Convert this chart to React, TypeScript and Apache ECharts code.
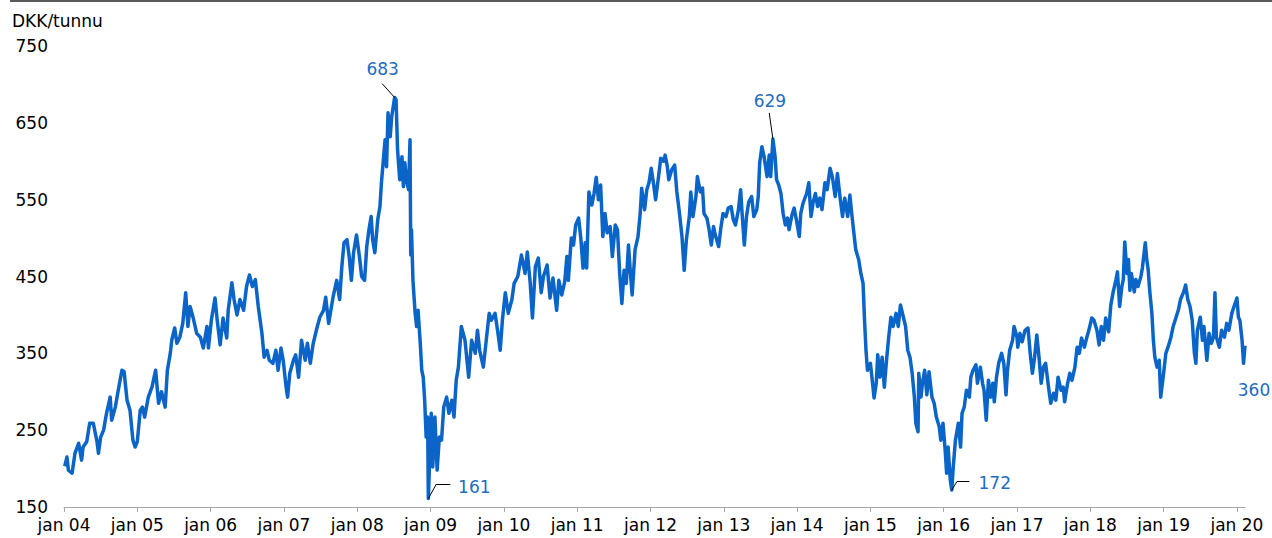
import React, { useEffect, useRef } from "react";
import * as echarts from "echarts";

// Decimal years (x) and prices DKK/tunnu (y)
const years = [
  2004.01, 2004.04, 2004.06, 2004.11, 2004.15, 2004.20, 2004.24, 2004.26, 2004.31, 2004.35,
  2004.40, 2004.45, 2004.47, 2004.50, 2004.54, 2004.58, 2004.63, 2004.65, 2004.70, 2004.74,
  2004.79, 2004.82, 2004.86, 2004.90, 2004.94, 2004.97, 2005.00, 2005.04, 2005.07, 2005.10,
  2005.15, 2005.20, 2005.25, 2005.29, 2005.33, 2005.38, 2005.41, 2005.45, 2005.47, 2005.51,
  2005.54, 2005.58, 2005.62, 2005.66, 2005.69, 2005.72, 2005.76, 2005.81, 2005.86, 2005.90,
  2005.95, 2005.97, 2006.01, 2006.06, 2006.09, 2006.13, 2006.17, 2006.22, 2006.24, 2006.29,
  2006.32, 2006.36, 2006.40, 2006.45, 2006.49, 2006.53, 2006.57, 2006.61, 2006.65, 2006.70,
  2006.73, 2006.77, 2006.80, 2006.85, 2006.89, 2006.92, 2006.96, 2006.99, 2007.03, 2007.05,
  2007.08, 2007.13, 2007.16, 2007.20, 2007.24, 2007.29, 2007.32, 2007.36, 2007.40, 2007.45,
  2007.49, 2007.54, 2007.57, 2007.61, 2007.64, 2007.67, 2007.72, 2007.76, 2007.79, 2007.82,
  2007.86, 2007.89, 2007.92, 2007.95, 2007.99, 2008.03, 2008.06, 2008.10, 2008.13, 2008.16,
  2008.19, 2008.21, 2008.24, 2008.28, 2008.31, 2008.33, 2008.36, 2008.38, 2008.40, 2008.42,
  2008.45, 2008.47, 2008.51, 2008.53, 2008.55, 2008.58, 2008.61, 2008.63, 2008.65, 2008.67,
  2008.70, 2008.72, 2008.73, 2008.74, 2008.76, 2008.79, 2008.81, 2008.83, 2008.86, 2008.88,
  2008.90, 2008.92, 2008.94, 2008.96, 2008.97, 2009.01, 2009.03, 2009.06, 2009.09, 2009.12,
  2009.15, 2009.18, 2009.22, 2009.25, 2009.29, 2009.32, 2009.35, 2009.38, 2009.42, 2009.47,
  2009.52, 2009.56, 2009.61, 2009.64, 2009.67, 2009.72, 2009.77, 2009.80, 2009.83, 2009.88,
  2009.92, 2009.95, 2009.98, 2010.02, 2010.06, 2010.11, 2010.14, 2010.19, 2010.24, 2010.29,
  2010.32, 2010.36, 2010.39, 2010.43, 2010.47, 2010.51, 2010.54, 2010.59, 2010.63, 2010.67,
  2010.72, 2010.75, 2010.79, 2010.83, 2010.86, 2010.88, 2010.92, 2010.95, 2010.98, 2011.02,
  2011.05, 2011.08, 2011.11, 2011.13, 2011.16, 2011.20, 2011.23, 2011.26, 2011.29, 2011.32,
  2011.35, 2011.38, 2011.41, 2011.45, 2011.48, 2011.52, 2011.55, 2011.58, 2011.61, 2011.64,
  2011.67, 2011.70, 2011.73, 2011.75, 2011.79, 2011.83, 2011.86, 2011.88, 2011.92, 2011.95,
  2011.98, 2012.01, 2012.04, 2012.07, 2012.11, 2012.14, 2012.18, 2012.20, 2012.23, 2012.25,
  2012.29, 2012.33, 2012.36, 2012.39, 2012.43, 2012.46, 2012.49, 2012.53, 2012.55, 2012.58,
  2012.62, 2012.64, 2012.68, 2012.71, 2012.73, 2012.77, 2012.80, 2012.83, 2012.86, 2012.89,
  2012.93, 2012.96, 2012.99, 2013.03, 2013.06, 2013.10, 2013.13, 2013.16, 2013.20, 2013.23,
  2013.25, 2013.28, 2013.31, 2013.34, 2013.38, 2013.41, 2013.45, 2013.47, 2013.49, 2013.52,
  2013.55, 2013.59, 2013.62, 2013.64, 2013.67, 2013.70, 2013.72, 2013.75, 2013.78, 2013.81,
  2013.84, 2013.87, 2013.89, 2013.93, 2013.96, 2013.99, 2014.03, 2014.05, 2014.08, 2014.13,
  2014.16, 2014.19, 2014.22, 2014.25, 2014.28, 2014.31, 2014.34, 2014.38, 2014.41, 2014.45,
  2014.48, 2014.52, 2014.55, 2014.59, 2014.62, 2014.65, 2014.69, 2014.72, 2014.75, 2014.78,
  2014.80, 2014.84, 2014.87, 2014.90, 2014.92, 2014.94, 2014.96, 2015.00, 2015.03, 2015.05,
  2015.08, 2015.10, 2015.13, 2015.16, 2015.19, 2015.22, 2015.25, 2015.28, 2015.31, 2015.35,
  2015.38, 2015.41, 2015.45, 2015.48, 2015.51, 2015.54, 2015.57, 2015.60, 2015.62, 2015.65,
  2015.66, 2015.69, 2015.71, 2015.74, 2015.77, 2015.80, 2015.84, 2015.87, 2015.90, 2015.94,
  2015.96, 2015.99, 2016.02, 2016.04, 2016.06, 2016.09, 2016.11, 2016.13, 2016.16, 2016.20,
  2016.23, 2016.25, 2016.28, 2016.31, 2016.35, 2016.37, 2016.40, 2016.44, 2016.46, 2016.50,
  2016.53, 2016.55, 2016.58, 2016.61, 2016.64, 2016.67, 2016.69, 2016.72, 2016.75, 2016.79,
  2016.82, 2016.85, 2016.87, 2016.90, 2016.94, 2016.96, 2017.00, 2017.01, 2017.04, 2017.07,
  2017.11, 2017.15, 2017.18, 2017.21, 2017.24, 2017.27, 2017.30, 2017.33, 2017.36, 2017.39,
  2017.43, 2017.46, 2017.50, 2017.53, 2017.56, 2017.60, 2017.63, 2017.65, 2017.69, 2017.72,
  2017.75, 2017.79, 2017.82, 2017.85, 2017.88, 2017.92, 2017.95, 2017.98, 2018.02, 2018.05,
  2018.09, 2018.12, 2018.15, 2018.18, 2018.21, 2018.25, 2018.28, 2018.31, 2018.35, 2018.37,
  2018.40, 2018.43, 2018.45, 2018.47, 2018.50, 2018.52, 2018.54, 2018.56, 2018.60, 2018.62,
  2018.65, 2018.69, 2018.71, 2018.75, 2018.77, 2018.79, 2018.81, 2018.84, 2018.86, 2018.88,
  2018.91, 2018.94, 2018.96, 2019.00, 2019.03, 2019.06, 2019.10, 2019.13, 2019.17, 2019.20,
  2019.23, 2019.27, 2019.30, 2019.33, 2019.36, 2019.39, 2019.42, 2019.44, 2019.46, 2019.50,
  2019.53, 2019.55, 2019.59, 2019.62, 2019.65, 2019.68, 2019.70, 2019.72, 2019.76, 2019.79,
  2019.83, 2019.86, 2019.89, 2019.93, 2019.96, 2020.00, 2020.02, 2020.04, 2020.07, 2020.09,
  2020.11,
];

const prices = [
  203, 215, 198, 194, 220, 233, 211, 228, 235, 259,
  259, 235, 220, 241, 250, 272, 293, 263, 280, 302,
  328, 326, 289, 276, 237, 228, 235, 276, 280, 267,
  293, 306, 328, 285, 300, 280, 328, 350, 367, 383,
  363, 371, 389, 429, 385, 411, 397, 376, 371, 357,
  385, 357, 393, 422, 393, 361, 396, 370, 406, 442,
  420, 400, 420, 406, 437, 452, 437, 446, 411, 376,
  345, 354, 341, 337, 354, 328, 357, 341, 306, 293,
  324, 341, 348, 319, 367, 341, 363, 337, 363, 383,
  397, 406, 423, 389, 406, 423, 445, 420, 463, 494,
  498, 476, 445, 481, 504, 476, 450, 445, 489, 511,
  528, 498, 481, 524, 541, 572, 606, 628, 593, 663,
  632, 658, 683, 680, 615, 576, 606, 567, 598, 576,
  563, 628, 478, 511, 445, 402, 385, 406, 363, 328,
  319, 289, 241, 267, 161, 272, 202, 267, 198, 241,
  237, 280, 293, 272, 289, 267, 315, 332, 385, 367,
  319, 367, 350, 380, 354, 332, 376, 402, 393, 402,
  376, 354, 393, 429, 402, 420, 441, 450, 478, 454,
  482, 441, 396, 463, 474, 429, 450, 465, 422, 448,
  406, 445, 426, 443, 476, 445, 500, 491, 517, 526,
  500, 461, 494, 461, 560, 543, 558, 579, 550, 569,
  502, 532, 507, 515, 476, 517, 511, 454, 415, 458,
  441, 491, 450, 426, 485, 502, 532, 565, 537, 563,
  572, 591, 572, 550, 580, 604, 600, 608, 593, 576,
  589, 595, 560, 537, 502, 458, 498, 528, 560, 528,
  554, 580, 560, 565, 532, 526, 511, 491, 515, 502,
  489, 513, 532, 528, 539, 541, 524, 517, 537, 563,
  532, 491, 528, 547, 554, 528, 537, 554, 598, 619,
  606, 580, 608, 580, 629, 606, 576, 569, 558, 532,
  517, 526, 511, 530, 539, 524, 502, 532, 545, 558,
  572, 528, 547, 558, 541, 552, 537, 572, 563, 591,
  580, 554, 584, 550, 528, 552, 528, 556, 528, 502,
  485, 472, 454, 441, 393, 354, 328, 337, 311, 292,
  311, 348, 319, 345, 306, 341, 371, 397, 385, 402,
  385, 413, 397, 385, 354, 345, 324, 293, 259, 248,
  324, 293, 311, 328, 296, 326, 293, 285, 267, 254,
  237, 259, 224, 194, 228, 185, 172, 202, 237, 259,
  228, 272, 280, 302, 293, 319, 328, 335, 311, 332,
  311, 302, 263, 315, 293, 311, 287, 319, 337, 350,
  337, 296, 328, 354, 367, 385, 371, 358, 376, 365,
  380, 383, 350, 324, 345, 374, 345, 311, 332, 337,
  306, 285, 298, 289, 319, 302, 306, 287, 311, 324,
  315, 332, 358, 350, 370, 358, 370, 380, 396, 393,
  380, 361, 385, 367, 396, 378, 413, 429, 446, 456,
  411, 437, 446, 495, 454, 472, 432, 454, 430, 446,
  437, 450, 461, 494, 472, 458, 432, 402, 367, 345,
  332, 341, 293, 324, 350, 358, 371, 385, 397, 406,
  420, 429, 439, 420, 411, 393, 350, 337, 380, 397,
  367, 385, 341, 376, 363, 371, 429, 371, 358, 380,
  371, 389, 380, 402, 411, 422, 397, 393, 367, 337,
  360,
];

const xTicks = [2004, 2005, 2006, 2007, 2008, 2009, 2010, 2011, 2012, 2013, 2014, 2015, 2016, 2017, 2018, 2019, 2020];
const xTickLabels = ["jan 04", "jan 05", "jan 06", "jan 07", "jan 08", "jan 09", "jan 10", "jan 11", "jan 12", "jan 13", "jan 14", "jan 15", "jan 16", "jan 17", "jan 18", "jan 19", "jan 20"];
const yTicks = [150, 250, 350, 450, 550, 650, 750];

// Annotated points (extremes and last value)
const annoYears = [2008.51, 2008.97, 2013.67, 2016.11, 2020.11];
const annoValues = [683, 161, 629, 172, 360];

// Leader lines, in data coordinates
const leaderLines = [
  [[2008.34, 701], [2008.51, 683]],
  [[2008.97, 161], [2009.08, 180]],
  [[2009.08, 180], [2009.27, 180]],
  [[2013.62, 663], [2013.67, 629]],
  [[2016.11, 172], [2016.18, 183]],
  [[2016.18, 183], [2016.35, 183]],
  [[2020.11, 360], [2020.24, 322]],
];

const FONT = "DejaVu Sans, Verdana, sans-serif";
const LINE_COLOR = "#0b65c8";
const LABEL_COLOR = "#1f6cc2";
const labelOffsets = [
  [-12, -28],
  [46, -12],
  [-3, -38],
  [43, -7],
  [9, 44],
];

export default function App() {
  const ref = useRef<HTMLDivElement>(null);

  useEffect(() => {
    if (!ref.current) return;
    const chart = echarts.init(ref.current, undefined, { renderer: "svg" });
    const data = years.map((t, i) => [t, prices[i]]);

    chart.setOption({
      animation: false,
      backgroundColor: "#ffffff",
      grid: { left: 64, right: 27, top: 46, bottom: 31, containLabel: false },
      graphic: [
        {
          type: "line",
          shape: { x1: 10, y1: 1, x2: 1272, y2: 1 },
          style: { stroke: "#5a5a5a", lineWidth: 2 },
        },
        {
          type: "text",
          left: 12,
          top: 12,
          style: { text: "DKK/tunnu", fontSize: 17, fontFamily: FONT, fill: "#000000" },
        },
      ],
      xAxis: {
        type: "value",
        min: 2004,
        max: years[years.length - 1],
        axisLine: { show: true, lineStyle: { color: "#a6a6a6", width: 1 } },
        axisTick: {
          show: true,
          length: 5,
          customValues: xTicks,
          lineStyle: { color: "#a6a6a6", width: 1 },
        },
        axisLabel: {
          customValues: xTicks,
          formatter: (v: number) => {
            const i = xTicks.indexOf(Math.round(v));
            return i >= 0 ? xTickLabels[i] : "";
          },
          fontSize: 17,
          fontFamily: FONT,
          color: "#000000",
          margin: 9,
        },
        splitLine: { show: false },
      },
      yAxis: {
        type: "value",
        min: 150,
        max: 750,
        axisLine: { show: false },
        axisTick: { show: false },
        splitLine: { show: false },
        axisLabel: {
          customValues: yTicks,
          fontSize: 17,
          fontFamily: FONT,
          color: "#000000",
          margin: 16,
        },
      },
      series: [
        {
          type: "line",
          data,
          showSymbol: false,
          symbol: "none",
          clip: false,
          lineStyle: { color: LINE_COLOR, width: 3.5, join: "round" },
          markLine: {
            silent: true,
            symbol: ["none", "none"],
            label: { show: false },
            lineStyle: { color: "#000000", width: 1, type: "solid" },
            data: leaderLines.map((seg) => [{ coord: seg[0] }, { coord: seg[1] }]),
          },
          markPoint: {
            silent: true,
            symbol: "circle",
            symbolSize: 1,
            itemStyle: { color: "rgba(0,0,0,0)" },
            label: {
              show: true,
              position: "inside",
              fontSize: 17,
              fontFamily: FONT,
              color: LABEL_COLOR,
            },
            data: annoYears.map((t, i) => ({
              coord: [t, annoValues[i]],
              value: annoValues[i],
              label: { offset: labelOffsets[i], formatter: String(annoValues[i]) },
            })),
          },
        },
      ],
    });

    return () => chart.dispose();
  }, []);

  return (
    <div
      ref={ref}
      style={{ position: "fixed", left: 0, top: 0, width: 1272, height: 538, background: "#fff" }}
    />
  );
}
